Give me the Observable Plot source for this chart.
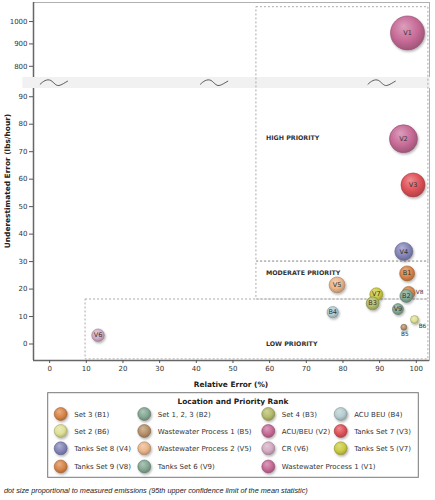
<!DOCTYPE html>
<html><head><meta charset="utf-8">
<script src="https://cdn.jsdelivr.net/npm/d3@7"></script>
<script src="https://cdn.jsdelivr.net/npm/@observablehq/plot@0.6"></script>
<style>
body{margin:0;background:#fff;}
#wrap{position:relative;width:435px;height:500px;overflow:hidden;}
#chart{position:absolute;left:0;top:0;}
#legend{position:absolute;left:0;top:390px;}
#caption{position:absolute;left:4px;top:486px;font:italic 7.3px "Liberation Sans",Arial,sans-serif;color:#222;white-space:nowrap;}
</style></head><body>
<div id="wrap"><div id="chart"></div><div id="legend"></div>
<div id="caption">dot size proportional to measured emissions (95th upper confidence limit of the mean statistic)</div></div>
<script>
// ---- data ----
const ids = ["V1","V2","V3","V4","B1","V5","V8","B2","V7","B3","B4","V9","B6","B5","V6"];
const relativeError = [97.6,96.5,99.1,96.6,97.5,78.4,97.9,97.3,89.1,88.1,77.2,95.0,99.5,96.6,13.2];
const underestimatedError = [949,74.7,57.9,33.7,25.7,21.5,18.6,17.5,18.1,14.8,11.6,12.7,8.9,6.1,3.2];
const emissions = [1000,678,498,280,195,221,146,146,146,146,112,105,55,31,137]; // relative

const legendIds = ["B1","B2","B3","B4","B6","B5","V2","V3","V4","V5","V6","V7","V8","V9","V1"];
const legendNames = ["Set 3","Set 1, 2, 3","Set 4","ACU BEU","Set 2","Wastewater Process 1","ACU/BEU","Tanks Set 7","Tanks Set 8","Wastewater Process 2","CR","Tanks Set 5","Tanks Set 9","Tanks Set 6","Wastewater Process 1"];

const regionNames = ["HIGH PRIORITY","MODERATE PRIORITY","LOW PRIORITY"];
const regionX1 = [56.4, 56.4, 9.8];
const regionX2 = [103.3, 103.3, 103.3];
const regionY1 = [30, 16.2, -5.6];
const regionY2 = [1064, 30, 16.2];
const regionLabelY = [75, 26, 0];
const regionLabelX = 59;

const xTicks = [0,10,20,30,40,50,60,70,80,90,100];
const yTicks = [0,10,20,30,40,50,60,70,80,90,800,900,1000];
const breakMarks = [1.3, 45, 90.7];

// ---- styles ----
const colors = {B1:"#d9864a",B2:"#85a894",B3:"#b5bc6a",B4:"#b6cdd1",B6:"#dfe096",B5:"#b8926a",
  V2:"#c86c98",V3:"#e0535a",V4:"#8587ba",V5:"#eab58a",V6:"#d5acc4",V7:"#cccc44",V8:"#d9864a",V9:"#85a894",V1:"#c86c98"};
const outsideLabels = {V8:[11,-1], B6:[8,7], B5:[1,7]};

// broken y axis: lower panel -6..93, gap 93..750, upper panel 750..1085
const yMin = -6, breakLow = 93, breakHigh = 750, yMax = 1085;
const gapUnits = 4.0, upperUnits = 27.3;
const yT = v => v <= breakLow ? v
  : v <= breakHigh ? breakLow + (v - breakLow) / (breakHigh - breakLow) * gapUnits
  : breakLow + gapUnits + (v - breakHigh) / (yMax - breakHigh) * upperUnits;
const xDomain = [-4.4, 103.6];

// gradient defs
const defsSvg = d3.select("body").append("svg").attr("width",0).attr("height",0).style("position","absolute");
const defs = defsSvg.append("defs");
Object.entries(colors).forEach(([k,c]) => {
  const g = defs.append("radialGradient").attr("id","grad-"+k)
    .attr("cx","45%").attr("cy","40%").attr("r","62%").attr("fx","38%").attr("fy","30%");
  g.append("stop").attr("offset","0%").attr("stop-color", d3.interpolateRgb(c,"#fff")(0.35));
  g.append("stop").attr("offset","60%").attr("stop-color", c);
  g.append("stop").attr("offset","100%").attr("stop-color", d3.color(c).darker(0.7).formatHex());
});
const f = defs.append("filter").attr("id","shadow").attr("x","-50%").attr("y","-50%").attr("width","200%").attr("height","200%");
f.append("feDropShadow").attr("dx",1).attr("dy",1.5).attr("stdDeviation",1.2).attr("flood-color","#000").attr("flood-opacity",0.3);

// all y values are passed through the broken-axis mapping yT
const points = ids.map((id,i) => ({id, x: relativeError[i], y: yT(underestimatedError[i]), e: emissions[i]}));
const regions = regionNames.map((n,i) => ({n, x1: regionX1[i], x2: regionX2[i], y1: yT(regionY1[i]), y2: yT(regionY2[i]), ly: yT(regionLabelY[i])}));
const tickPos = yTicks.map(yT);
const tickLabel = new Map(yTicks.map(t => [yT(t), String(t)]));

const squiggle = (index, scales) => {
  const g = d3.create("svg:g");
  const yc = (scales.y(yT(breakLow)) + scales.y(yT(breakHigh))) / 2;
  breakMarks.forEach(b => {
    g.append("path").attr("transform", `translate(${scales.x(b)},${yc})`)
      .attr("d","M-14,2 C-11,-1 -7,-4 -3,-2 C0,0 2,3.5 5,3 C8,2.5 11,0 14,-1.5")
      .attr("fill","none").attr("stroke","#333").attr("stroke-width",0.8);
  });
  return g.node();
};

const marks = [
  Plot.frame({stroke:"#b0b0b0"}),
  Plot.ruleX([xDomain[0]], {stroke:"#666", strokeWidth:1.5}),
  Plot.ruleY([yT(yMin)], {stroke:"#666", strokeWidth:1.3}),
  Plot.rect([0], {x1: -7.3, x2: 103.9, y1: yT(breakLow), y2: yT(breakHigh), fill: "#f1f1f1"}),
  Plot.axisX({ticks: xTicks, tickSize: 3, tickPadding: 3, label: null, stroke:"#555", fill:"#333"}),
  Plot.axisY({ticks: tickPos, tickSize: 4, tickPadding: 2, label: null, stroke:"#555", fill:"#333", tickFormat: d => tickLabel.get(d)}),
  Plot.rect(regions, {x1:"x1", x2:"x2", y1:"y1", y2:"y2", fill:"none", stroke:"#aaa", strokeWidth:1, strokeDasharray:"2,2"}),
  Plot.text(regions, {x: () => regionLabelX, y: "ly", text: "n", textAnchor:"start", fontSize: 6.3, fontWeight:"bold", fill:"#333"}),
  squiggle,
  Plot.dot(points, {x:"x", y:"y", r:"e", fill: d => `url(#grad-${d.id})`, stroke: d => d3.color(colors[d.id]).darker(0.9).formatHex(), strokeWidth: 0.6}),
  Plot.text(points.filter(d => !outsideLabels[d.id]), {x:"x", y:"y", text:"id", fontSize: 6.5, fill:"#333"}),
  ...Object.entries(outsideLabels).map(([k,[dx,dy]]) =>
    Plot.text(points.filter(d => d.id === k), {x:"x", y:"y", text:"id", fontSize: 5.8, fill:"#333", dx, dy}))
];

const chart = Plot.plot({
  width: 435, height: 392,
  marginLeft: 33, marginRight: 6, marginTop: 2, marginBottom: 32,
  style: {fontFamily: "'DejaVu Sans', Verdana, sans-serif", fontSize: "7px", background: "#fff", overflow: "visible"},
  x: {domain: xDomain},
  y: {domain: [yT(yMin), yT(yMax)]},
  r: {type: "sqrt", domain: [0, 1000], range: [0, 17]},
  color: {type: "identity"},
  marks
});
d3.select(chart).selectAll("g[aria-label=dot]").attr("filter","url(#shadow)");
const cs = d3.select(chart);
cs.append("text").attr("x", 231).attr("y", 387).attr("text-anchor","middle")
  .attr("font-weight","bold").attr("font-size", 7.4).attr("fill","#222").text("Relative Error (%)");
cs.append("text").attr("transform","translate(9.5,181) rotate(-90)").attr("text-anchor","middle")
  .attr("font-weight","bold").attr("font-size", 7.4).attr("fill","#222").text("Underestimated Error (lbs/hour)");
document.getElementById("chart").appendChild(chart);

// ---- legend ----
const colX = [60.7, 144.3, 268.3, 340.7];
const rowY = [24, 41, 58.3, 76.5];
const lg = d3.select("#legend").append("svg").attr("width",435).attr("height",92)
  .style("font-family","'DejaVu Sans', Verdana, sans-serif");
lg.append("rect").attr("x",47.7).attr("y",2.7).attr("width",370.6).attr("height",84.6)
  .attr("fill","none").attr("stroke","#777").attr("stroke-width",1);
lg.append("text").attr("x",233).attr("y",13.5).attr("text-anchor","middle").attr("font-weight","bold")
  .attr("font-size",7.4).attr("fill","#222").text("Location and Priority Rank");
legendIds.forEach((id,i) => {
  const cx = colX[i % 4], cy = rowY[Math.floor(i / 4)];
  lg.append("circle").attr("cx",cx).attr("cy",cy).attr("r",6.5)
    .attr("fill",`url(#grad-${id})`).attr("stroke", d3.color(colors[id]).darker(0.9).formatHex()).attr("stroke-width",0.6)
    .attr("filter","url(#shadow)");
  lg.append("text").attr("x",cx + 13.5).attr("y",cy + 2.5).attr("font-size",7).attr("fill","#333")
    .text(`${legendNames[i]} (${id})`);
});
</script></body></html>
